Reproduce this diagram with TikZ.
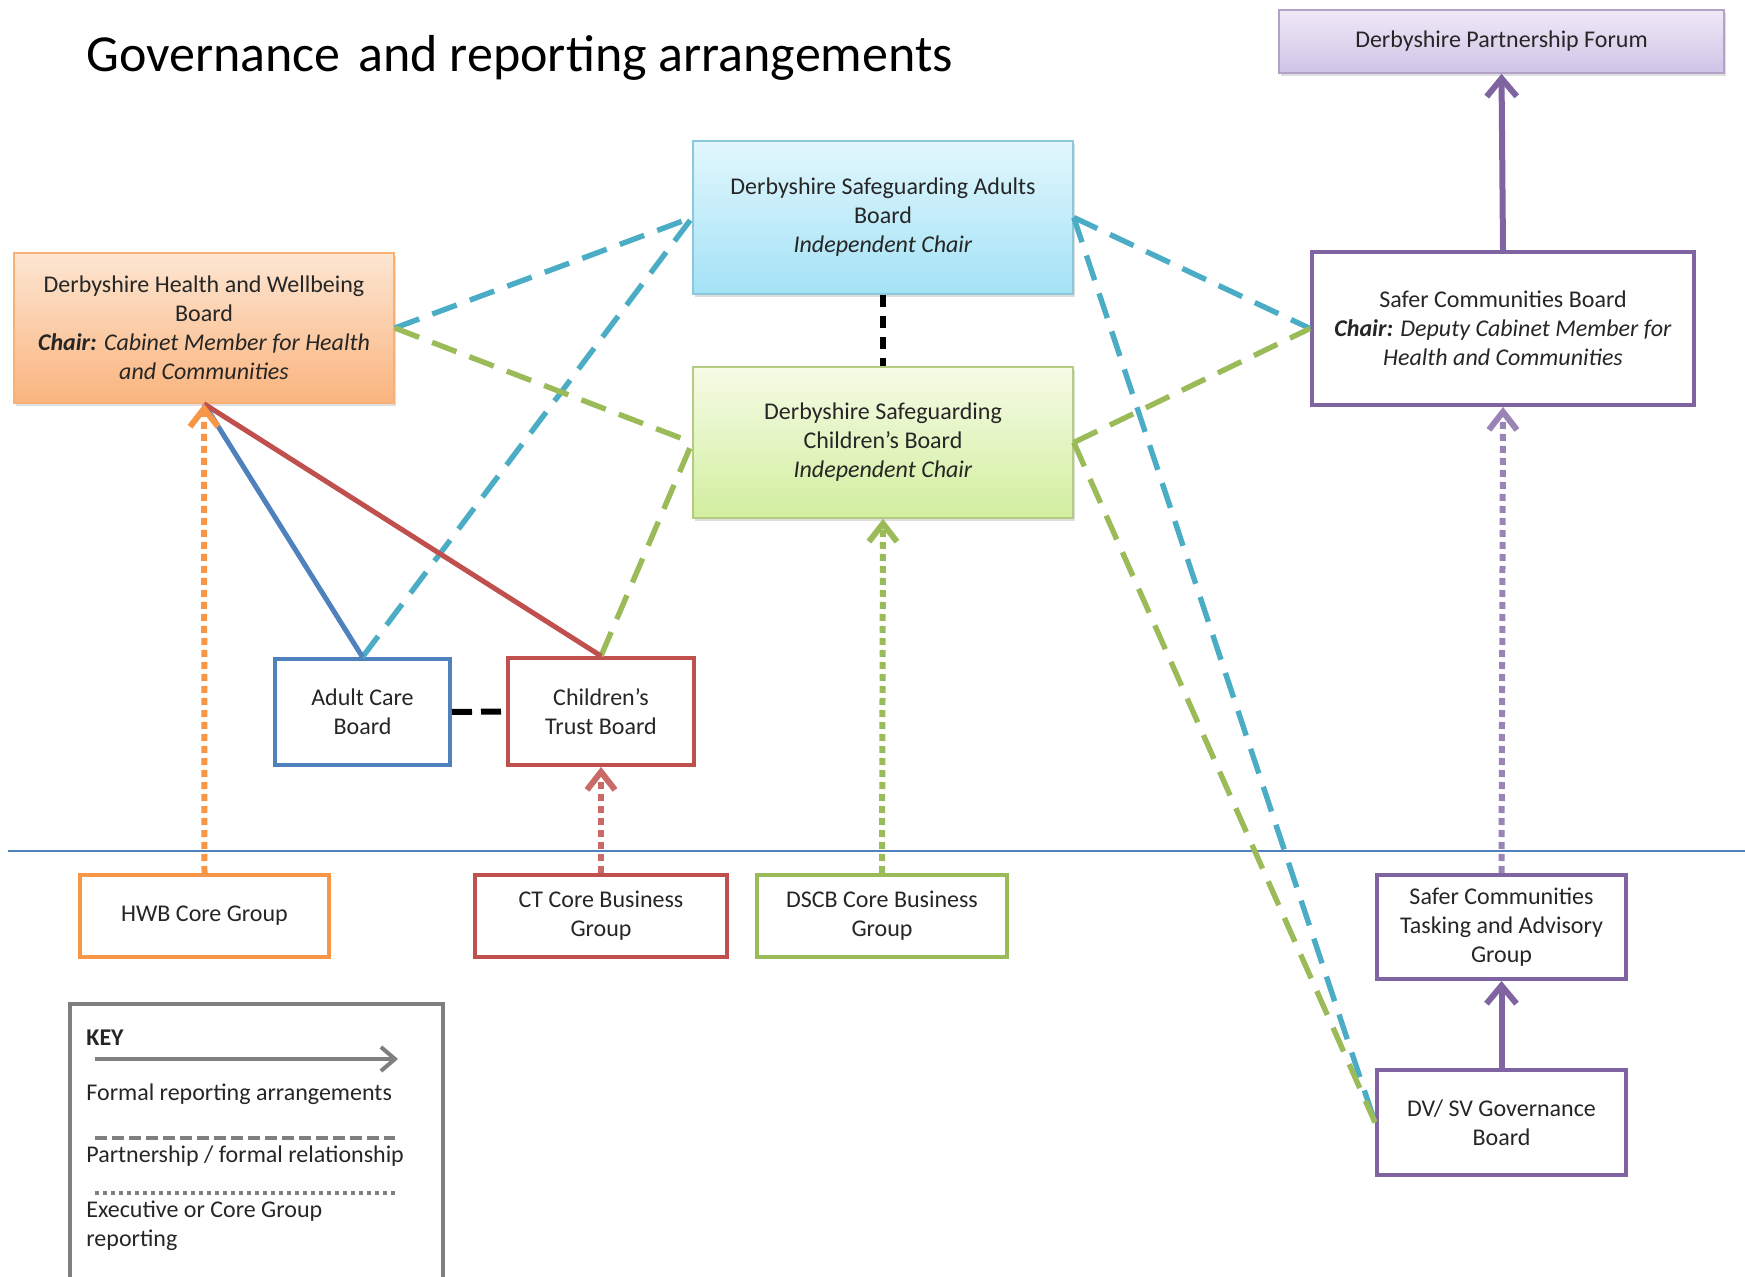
\documentclass[tikz,border=0pt]{standalone}
\usepackage{fontspec}
\setmainfont{Carlito}
\usetikzlibrary{arrows.meta,shadows}
\definecolor{txtc}{HTML}{262626}
\definecolor{orangeL}{HTML}{F79646}
\definecolor{redL}{HTML}{C0504D}
\definecolor{blueL}{HTML}{4F81BD}
\definecolor{tealL}{HTML}{4BACC6}
\definecolor{greenL}{HTML}{9BBB59}
\definecolor{purpleL}{HTML}{8064A2}
\definecolor{keygray}{HTML}{7F7F7F}
\definecolor{dpfT}{HTML}{EFE9F7}
\definecolor{dpfB}{HTML}{D0C3E6}
\definecolor{hwbT}{HTML}{FDE6D2}
\definecolor{hwbB}{HTML}{FAB47E}
\definecolor{dsabT}{HTML}{E2F7FD}
\definecolor{dsabB}{HTML}{A3E2F6}
\definecolor{dscbT}{HTML}{F5FBE6}
\definecolor{dscbB}{HTML}{D2EE9E}
\begin{document}
\begin{tikzpicture}[x=0.5pt,y=-0.5pt,
  txt/.style={font=\fontsize{12pt}{14.5pt}\selectfont, text=txtc, align=center, inner sep=0pt},
  gbox/.style={txt, rectangle, draw, line width=0.8pt,
     drop shadow={opacity=0.25, shadow xshift=1.2pt, shadow yshift=-1.5pt}},
  obox/.style={txt, rectangle, draw, line width=2pt, fill=white},
  rep/.style={line width=3pt, -{Straight Barb[length=9pt,width=15pt]}},
  exec/.style={line width=3pt, dash pattern=on 3.5pt off 2.5pt, -{Straight Barb[length=9pt,width=14pt]}},
  part/.style={line width=2.7pt, dash pattern=on 13pt off 7pt},
  link/.style={line width=2.5pt},
  blk/.style={line width=2.8pt, black, dash pattern=on 6pt off 4.5pt}
]
\useasboundingbox (0,0) rectangle (1745,1277);

% title
\node[anchor=base west, inner sep=0pt, font=\fontsize{26pt}{30pt}\selectfont, text=black] (title) at (86,72)
  {Governance\hspace{3pt} and reporting arrangements};

% divider
\coordinate (divL) at (8,851);
\coordinate (divR) at (1745,851);
\draw[blueL, line width=0.8pt] (divL) -- (divR);

% boxes with gradients
\node[gbox, draw=purpleL!60, top color=dpfT, bottom color=dpfB,
      minimum width=222.5pt, minimum height=31.5pt] (dpf) at (1501.5,41.5)
  {Derbyshire Partnership Forum};
\node[gbox, draw=orangeL!75, top color=hwbT, bottom color=hwbB,
      minimum width=190pt, minimum height=75pt] (hwb) at (204,328)
  {Derbyshire Health and Wellbeing\\Board\\\textit{\textbf{Chair:} Cabinet Member for Health}\\\textit{and Communities}};
\node[gbox, draw=tealL!65, top color=dsabT, bottom color=dsabB,
      minimum width=190pt, minimum height=76.5pt] (dsab) at (883,217.5)
  {Derbyshire Safeguarding Adults\\Board\\\textit{Independent Chair}};
\node[gbox, draw=greenL!75, top color=dscbT, bottom color=dscbB,
      minimum width=190pt, minimum height=75.5pt] (dscb) at (883,442.5)
  {Derbyshire Safeguarding\\Children’s Board\\\textit{Independent Chair}};

% outlined boxes
\node[obox, draw=purpleL, minimum width=191pt, minimum height=76.5pt] (scb) at (1503,328.5)
  {Safer Communities Board\\\textit{\textbf{Chair:} Deputy Cabinet Member for}\\\textit{Health and Communities}};
\node[obox, draw=blueL, minimum width=87.5pt, minimum height=53pt] (acb) at (362.5,712)
  {Adult Care\\Board};
\node[obox, draw=redL, minimum width=93pt, minimum height=53.5pt] (ctb) at (601,711.5)
  {Children’s\\Trust Board};
\node[obox, draw=orangeL, minimum width=124.5pt, minimum height=41pt] (hwbcg) at (204.5,916)
  {HWB Core Group};
\node[obox, draw=redL, minimum width=126pt, minimum height=41pt] (ctcbg) at (601,916)
  {CT Core Business\\Group};
\node[obox, draw=greenL, minimum width=125pt, minimum height=41pt] (dscbcg) at (882,916)
  {DSCB Core Business\\Group};
\node[obox, draw=purpleL, minimum width=124.5pt, minimum height=52pt] (sctag) at (1501.5,927)
  {Safer Communities\\Tasking and Advisory\\Group};
\node[obox, draw=purpleL, minimum width=124.5pt, minimum height=52.5pt] (dvsv) at (1501.5,1122.5)
  {DV/ SV Governance\\Board};

% partnership dashed (teal)
\draw[part, tealL] (hwb.east) -- (dsab.west);
\draw[part, tealL] (acb.north) -- (dsab.west);
\draw[part, tealL] (dsab.east) -- (scb.west);
\draw[part, tealL] (dsab.east) -- (dvsv.west);
% partnership dashed (green)
\draw[part, greenL] (hwb.east) -- (dscb.west);
\draw[part, greenL] (ctb.north) -- (dscb.west);
\draw[part, greenL] (dscb.east) -- (scb.west);
\draw[part, greenL] (dscb.east) -- (dvsv.west);
% black dashed
\draw[blk] (dsab.south) -- (dscb.north);
\draw[blk, line width=3pt, dash pattern=on 10pt off 4.5pt] (acb.east) -- (ctb.west);

% formal reporting solid
\draw[link, blueL] (acb.north) -- (hwb.south);
\draw[link, redL] (ctb.north) -- (hwb.south);
\draw[rep, purpleL] (scb.north) -- (dpf.south);
\draw[rep, purpleL] (dvsv.north) -- (sctag.south);

% executive / core group reporting dotted
\draw[exec, orangeL] (hwbcg.north) -- (hwb.south);
\draw[exec, redL!85] (ctcbg.north) -- (ctb.south);
\draw[exec, greenL] (dscbcg.north) -- (dscb.south);
\draw[exec, purpleL!80] (sctag.north) -- (scb.south);

% key
\coordinate (keyTL) at (70,1004);
\coordinate (keyBR) at (443,1310);
\draw[keygray, line width=2pt] (keyTL) rectangle (keyBR);
\node[txt, anchor=west, font=\fontsize{12pt}{14.5pt}\selectfont\bfseries] (keyt) at (86,1038) {KEY};
\coordinate (k1a) at (95,1059);
\coordinate (k1b) at (398,1059);
\draw[keygray, line width=2pt, -{Straight Barb[length=7pt,width=12pt]}] (k1a) -- (k1b);
\node[txt, anchor=west] (k1t) at (86,1094) {Formal reporting arrangements};
\coordinate (k2a) at (95,1138);
\coordinate (k2b) at (395,1138);
\draw[keygray, line width=2pt, dash pattern=on 6pt off 2.5pt] (k2a) -- (k2b);
\node[txt, anchor=west] (k2t) at (86,1156) {Partnership / formal relationship};
\coordinate (k3a) at (95,1193);
\coordinate (k3b) at (395,1193);
\draw[keygray, line width=2pt, dash pattern=on 2pt off 2pt] (k3a) -- (k3b);
\node[txt, anchor=west, align=left] (k3t) at (86,1226) {Executive or Core Group\\reporting};
\end{tikzpicture}
\end{document}
